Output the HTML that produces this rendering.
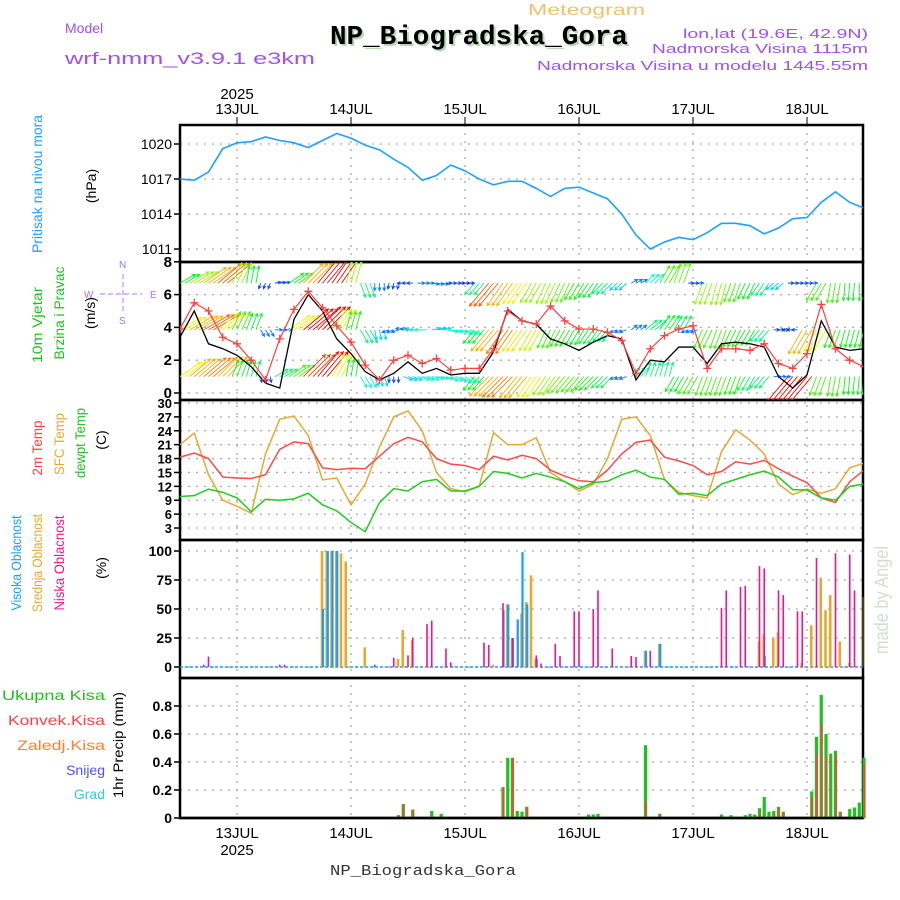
<!DOCTYPE html>
<html><head><meta charset="utf-8"><style>
html,body{margin:0;padding:0;background:#fff;}
svg{display:block;font-family:"Liberation Sans",sans-serif;}
</style></head><body>
<svg id="chart" width="900" height="900" viewBox="0 0 900 900" xmlns="http://www.w3.org/2000/svg">
<defs>
<clipPath id="clipP"><rect x="180" y="125" width="683" height="137"/></clipPath>
<clipPath id="clipW"><rect x="180" y="262" width="683" height="138"/></clipPath>
<clipPath id="clipT"><rect x="180" y="400" width="683" height="140"/></clipPath>
</defs>
<!-- header -->
<text x="528" y="15" font-size="16" fill="#f0c070" lengthAdjust="spacingAndGlyphs" textLength="117">Meteogram</text>
<text x="65" y="33" font-size="14" fill="#a050f0">Model</text>
<text x="65" y="64" font-size="17" fill="#a050f0" lengthAdjust="spacingAndGlyphs" textLength="250">wrf-nmm_v3.9.1 e3km</text>
<text x="332" y="46" font-size="27" font-weight="bold" fill="#b8d8b8" font-family="Liberation Mono, monospace" lengthAdjust="spacingAndGlyphs" textLength="298">NP_Biogradska_Gora</text>
<text x="330" y="44" font-size="27" font-weight="bold" fill="#000" font-family="Liberation Mono, monospace" lengthAdjust="spacingAndGlyphs" textLength="298">NP_Biogradska_Gora</text>
<text x="868" y="38" font-size="13" fill="#a050f0" text-anchor="end" lengthAdjust="spacingAndGlyphs" textLength="185">lon,lat (19.6E, 42.9N)</text>
<text x="868" y="53" font-size="13" fill="#a050f0" text-anchor="end" lengthAdjust="spacingAndGlyphs" textLength="216">Nadmorska Visina 1115m</text>
<text x="868" y="70" font-size="13" fill="#a050f0" text-anchor="end" lengthAdjust="spacingAndGlyphs" textLength="331">Nadmorska Visina u modelu 1445.55m</text>
<text x="237" y="99" font-size="15" text-anchor="middle">2025</text>
<g id="frame"></g>
<g id="marks"></g>
<!-- left labels -->
<text transform="translate(42,184) rotate(-90)" font-size="14" fill="#1e9fff" text-anchor="middle" lengthAdjust="spacingAndGlyphs" textLength="138">Pritisak na nivou mora</text>
<text transform="translate(96,186) rotate(-90)" font-size="14" text-anchor="middle">(hPa)</text>
<text transform="translate(42,325) rotate(-90)" font-size="14" fill="#20c020" text-anchor="middle" lengthAdjust="spacingAndGlyphs" textLength="76">10m Vjetar</text>
<text transform="translate(64,313) rotate(-90)" font-size="14" fill="#20c020" text-anchor="middle" lengthAdjust="spacingAndGlyphs" textLength="93">Brzina i Pravac</text>
<text transform="translate(95,313) rotate(-90)" font-size="14" text-anchor="middle">(m/s)</text>
<g fill="#b070f0" stroke="#b070f0" font-size="10">
<text x="84" y="298" stroke="none">W</text><text x="150" y="298" stroke="none">E</text>
<text x="119" y="268" stroke="none">N</text><text x="119" y="324" stroke="none">S</text>
<line x1="100" y1="294" x2="142" y2="294" stroke-dasharray="5,3"/><line x1="123" y1="274" x2="123" y2="312" stroke-dasharray="5,3"/>
</g>
<text transform="translate(42,448) rotate(-90)" font-size="14" fill="#ff4040" text-anchor="middle" lengthAdjust="spacingAndGlyphs" textLength="55">2m Temp</text>
<text transform="translate(64,444) rotate(-90)" font-size="14" fill="#e8a830" text-anchor="middle" lengthAdjust="spacingAndGlyphs" textLength="62">SFC Temp</text>
<text transform="translate(85,443) rotate(-90)" font-size="14" fill="#20c020" text-anchor="middle" lengthAdjust="spacingAndGlyphs" textLength="70">dewpt Temp</text>
<text transform="translate(106,440) rotate(-90)" font-size="14" text-anchor="middle">(C)</text>
<text transform="translate(21,563) rotate(-90)" font-size="14" fill="#10a0ff" text-anchor="middle" lengthAdjust="spacingAndGlyphs" textLength="95">Visoka Oblacnost</text>
<text transform="translate(42,563) rotate(-90)" font-size="14" fill="#e8a830" text-anchor="middle" lengthAdjust="spacingAndGlyphs" textLength="98">Srednja Oblacnost</text>
<text transform="translate(64,563) rotate(-90)" font-size="14" fill="#f0148c" text-anchor="middle" lengthAdjust="spacingAndGlyphs" textLength="95">Niska Oblacnost</text>
<text transform="translate(106,568) rotate(-90)" font-size="14" text-anchor="middle">(%)</text>
<text x="105" y="700" font-size="14" fill="#20c020" text-anchor="end" lengthAdjust="spacingAndGlyphs" textLength="103">Ukupna Kisa</text>
<text x="105" y="725" font-size="14" fill="#ff4040" text-anchor="end" lengthAdjust="spacingAndGlyphs" textLength="97">Konvek.Kisa</text>
<text x="105" y="750" font-size="14" fill="#ff8030" text-anchor="end" lengthAdjust="spacingAndGlyphs" textLength="88">Zaledj.Kisa</text>
<text x="105" y="775" font-size="14" fill="#5050ff" text-anchor="end">Snijeg</text>
<text x="105" y="799" font-size="14" fill="#30d0d0" text-anchor="end">Grad</text>
<text transform="translate(123,745) rotate(-90)" font-size="14" text-anchor="middle" lengthAdjust="spacingAndGlyphs" textLength="106">1hr Precip (mm)</text>
<text transform="translate(888,600) rotate(-90)" font-size="19" fill="#d4dcd4" text-anchor="middle" lengthAdjust="spacingAndGlyphs" textLength="108">made by Angel</text>
<text x="237" y="855" font-size="15" text-anchor="middle">2025</text>
<text x="330" y="875" font-size="15" fill="#333" font-family="Liberation Mono, monospace" lengthAdjust="spacingAndGlyphs" textLength="186">NP_Biogradska_Gora</text>
</svg>
<script>
// ---- data (3-hourly from 12JUL 12Z) ----
const dayLabels = ["13JUL","14JUL","15JUL","16JUL","17JUL","18JUL"];
const dayHours = [12,36,60,84,108,132];
const pressureTicks = [1011,1014,1017,1020];
const windTicks = [0,2,4,6,8];
const tempTicks = [3,6,9,12,15,18,21,24,27,30];
const cloudTicks = [0,25,50,75,100];
const precipTicks = [0,0.2,0.4,0.6,0.8];
const precipTickLabels = ["0","0.2","0.4","0.6","0.8"];
const pressure = [1017.0,1016.9,1017.6,1019.6,1020.1,1020.2,1020.6,1020.3,1020.1,1019.7,1020.3,1020.9,1020.5,1019.9,1019.5,1018.7,1018.0,1016.9,1017.3,1018.2,1017.7,1017.0,1016.5,1016.8,1016.8,1016.2,1015.5,1016.2,1016.3,1015.8,1015.3,1014.0,1012.2,1011.0,1011.6,1012.0,1011.8,1012.4,1013.2,1013.2,1013.0,1012.3,1012.8,1013.6,1013.7,1015.0,1015.9,1015.0,1014.5];
const windSpeed = [3.4,5.0,3.0,2.7,2.3,1.6,0.6,0.3,4.5,6.0,5.0,3.3,2.4,1.3,0.8,1.2,1.9,1.2,1.5,1.1,1.2,1.2,2.5,5.1,4.4,4.2,3.3,3.0,2.6,3.1,3.5,3.3,0.8,2.0,1.9,2.8,2.8,1.8,3.0,3.1,3.0,2.8,1.0,0.3,1.1,4.4,2.8,2.6,2.7];
const windGust = [3.9,5.5,5.0,3.4,3.0,2.0,0.8,3.3,5.1,6.2,5.2,4.1,3.1,1.7,0.8,2.0,2.3,1.8,2.1,1.4,1.5,1.5,2.7,5.0,4.4,4.2,5.3,4.4,3.9,3.9,3.7,3.2,1.2,2.7,3.5,3.9,4.1,1.5,2.7,2.7,2.6,3.0,1.8,1.5,2.4,5.4,2.7,2.0,1.6];
const windDirTop = [30,30,35,40,65,80,250,10,35,45,50,55,75,290,270,260,180,0,350,0,0,230,230,235,235,240,245,245,240,235,225,225,30,45,60,70,0,250,255,250,245,235,220,0,0,240,260,265,270];
const windSpdTop = [3.5,4.5,5.5,6,4.5,3.5,1.2,1.2,3.5,5.5,6.5,6.5,4.5,3,1.5,1.2,1.2,1.5,1.5,1.2,1.0,3,6,5.5,5,4.5,4.5,4.2,3.8,3.5,3.0,2.0,1.5,2.5,4,4.2,1.2,4.5,4.5,4.0,3.5,3.0,2.0,1.2,1.2,4,4,3.5,3.5];
const windDirMid = [30,30,30,40,65,70,300,0,35,40,45,55,75,300,280,200,170,180,10,350,340,230,230,235,235,240,245,240,240,235,230,200,40,40,55,60,200,245,250,245,240,230,0,180,240,240,250,255,255];
const windSpdMid = [5,5.5,6,5,4,3.5,1.5,1.5,5,6.5,6.5,5,3.8,3,2,1.5,1.5,2.5,2,2.5,2.5,3.5,5.5,5.8,5.2,4.8,4,3.8,3.5,3.4,3.0,1.5,1.5,3,3.5,3.2,1.5,4,4,3.8,3.5,3,1.2,1.2,5.5,5,3.8,3.6,3.6];
const windDirBot = [35,40,40,45,70,75,280,30,35,45,50,60,80,300,290,270,340,345,350,340,330,230,225,225,230,235,235,230,230,225,225,200,45,70,75,240,240,250,250,250,240,230,0,230,230,250,260,265,265];
const windSpdBot = [5,5.5,5.8,5.5,3.5,3.2,1.2,3,4,6.2,6.5,5,3.5,2.5,2,1.2,2,2.5,2.5,2.5,2.5,3.5,5.5,5.8,5.5,5,4.5,4.2,4,3.8,3.2,1.5,2.5,3,3,3.5,4,4,4,3.8,3.2,3,1.5,6.5,6.5,4,4,3.6,3.6];
const temp2m = [18.3,19.2,18.0,14.0,13.8,13.7,14.5,20.0,21.6,21.2,16.0,15.6,15.9,15.8,18.5,21.2,22.6,21.6,18.0,16.8,16.5,15.6,18.5,17.7,18.7,18.0,15.5,14.2,13.2,13.0,15.5,19.0,21.5,22.0,18.3,17.5,16.5,14.5,15.2,17.3,16.8,17.6,15.8,14.2,12.8,9.5,8.5,13.0,15.5];
const tempSfc = [21,23.5,14.5,9,7.7,6.2,19,26.5,27.2,23,13.4,13.8,8,12.5,20.5,27,28.3,24,15,11.5,10.8,12,23.6,21,21,22.5,15,13,11,12.4,18,26.5,27,23,13.5,10.7,10,9.5,19.5,24.2,22,19,12.5,10.2,11.4,10.5,11.5,16,17];
const tempDew = [9.8,10,11.4,10.7,9.5,6.5,9.2,9,9.3,10.5,8,6.7,4.2,2.2,8.5,11.5,11,13,13.5,11,11,12,15.2,14.8,13.8,14.8,14,13,11.5,12.8,13.1,14.5,15.5,14,13.5,10.3,10.5,10,12.5,13.5,14.5,15.3,14,11.3,11.2,9.5,9,12,12.5];
// cloud cover (hourly indices)
const lowHours = [5,6,21,22,41,45,48,49,52,53,56,57,64,65,68,70,75,76,79,80,83,84,87,88,91,95,96,99,114,115,118,119,122,123,126,127,130,131,134,138,141,142];
const lowVals = [2,9,2,2,2,8,10,25,37,40,16,4,21,19,55,25,10,3,20,9.5,48,48,50,66,16,9.5,8.6,14,51,66,69,70,87,85,66,62,48,48,94,98,97,66];
const midHours = [30,31,32,33,34,35,39,46,47,49,66,69,70,72,73,74,75,98,101,122,123,125,126,131,133,135,136,137,139,141];
const midVals = [100,100,100,100,98,91,17,7,32,23,2,54,25,46,56,79,7,14,20,22,28,25,30,3.5,36,77,49,62,22,3.5];
const highHours = [30,31,32,33,68,69,70,71,72,73,75,98,101,123];
const highVals = [50,100,100,100,49,54,25,41,99,54,7,14,20,9.5];
// precipitation (hourly indices)
const precHours = [46,47,49,53,55,68,69,70,71,72,73,74,85,86,87,88,89,97,98,101,102,114,115,116,117,118,119,120,121,122,123,124,125,126,127,132,133,134,135,136,137,138,139,141,142,143,144];
const precTotal = [0.02,0.1,0.06,0.05,0.03,0.22,0.43,0.43,0.05,0.045,0.08,0.01,0.01,0.025,0.025,0.03,0.01,0.01,0.52,0.03,0.01,0.025,0.01,0.02,0.01,0.01,0.02,0.03,0.025,0.07,0.15,0.045,0.05,0.08,0.045,0.01,0.19,0.58,0.88,0.6,0.46,0.48,0.045,0.065,0.075,0.11,0.43];
const precConv = [0.02,0.1,0.06,0,0,0.22,0,0.43,0,0,0.08,0,0,0,0,0,0,0,0.12,0.03,0,0,0,0,0,0,0,0,0,0.04,0,0,0.03,0.07,0.04,0,0.15,0.46,0.67,0.44,0,0.46,0.04,0,0,0,0.39];

// ---- axes ----
const X0 = 180, X1 = 863, PX = 4.75;
const xh = h => X0 + PX*h;
const xi = i => xh(3*i);
const yP = p => 144 + (1020-p)*11.67;
const yW = v => 393 - v*16.4;
const yT = t => 403 + (30-t)*4.63;
const yC = c => 667 - c*1.16;
const yR = r => 818 - r*140;
const panels = [[125,262],[262,400],[400,540],[540,678],[678,818]];

const NS = "http://www.w3.org/2000/svg";
function mk(tag, attrs, parent){
  const e = document.createElementNS(NS, tag);
  for (const k in attrs) e.setAttribute(k, attrs[k]);
  (parent||marks).appendChild(e);
  return e;
}
const frame = document.getElementById('frame');
const marks = document.getElementById('marks');

function hGrid(ticks, yf, labels, y0, y1, name, fs, bold){
  ticks.forEach((t,k)=>{
    const y = yf(t);
    if (y > y0+1 && y < y1-1) {
      const g = mk('line',{x1:X0,x2:X1,y1:y,y2:y,stroke:'#aaa','stroke-width':1.3,'stroke-dasharray':'2,6'},frame);
      
      
    }
    const tk = mk('line',{x1:X0-6,x2:X0,y1:y,y2:y,stroke:'#000','stroke-width':1.5},frame);
    
    
    const tx = mk('text',{x:X0-8,y:y+5,'text-anchor':'end','font-size':fs,'font-weight':bold?'bold':'normal'},frame);
    tx.textContent = labels ? labels[k] : String(t);
    
    
  });
}
hGrid(pressureTicks, yP, null, 125, 262, 'pressure-axis', 14, false);
hGrid(windTicks, yW, null, 262, 400, 'wind-axis', 15, true);
hGrid(tempTicks, yT, null, 400, 540, 'temp-axis', 13, true);
hGrid(cloudTicks, yC, null, 540, 678, 'cloud-axis', 14, true);
hGrid(precipTicks, yR, precipTickLabels, 678, 818, 'precip-axis', 14, true);

dayHours.forEach((h,k)=>{
  const x = xh(h);
  const v = mk('line',{x1:x,x2:x,y1:125,y2:818,stroke:'#aaa','stroke-width':1.3,'stroke-dasharray':'2,6'},frame);
  
  
  const t1 = mk('line',{x1:x,x2:x,y1:117,y2:125,stroke:'#000'},frame);
  
  
  const lt = mk('text',{x:x,y:114,'text-anchor':'middle','font-size':15},frame);
  lt.textContent = dayLabels[k];
  
  
  const lb = mk('text',{x:x,y:838,'text-anchor':'middle','font-size':15},frame);
  lb.textContent = dayLabels[k];
  
  
});
panels.forEach((p,k)=>{
  const r = mk('rect',{x:X0,y:p[0],width:X1-X0,height:p[1]-p[0],fill:'none',stroke:'#000','stroke-width':2.5},frame);
  
  
});

// ---- pressure ----
const pl = mk('polyline',{points:pressure.map((p,i)=>xi(i)+','+yP(p)).join(' '),fill:'none',stroke:'#1ea0ff','stroke-width':1.6,'clip-path':'url(#clipP)'});



// ---- wind arrows ----
const wg = mk('g',{'clip-path':'url(#clipW)'});


function spdColor(s){ const h = Math.max(0, 275 - s/6.5*275); return 'hsl('+h+',95%,50%)'; }
function drawLevel(dirs, spds, base, lname){
  for (let h=0; h<=144; h++){
    const i = Math.min(48, Math.round(h/3));
    const d = dirs[i]*Math.PI/180, s = spds[i];
    const L = 5*s, x0 = xh(h), y0 = yW(base);
    const x1 = x0 + L*Math.cos(d), y1 = y0 - L*Math.sin(d);
    const c = spdColor(s);
    const a1 = d + Math.PI - 0.45, a2 = d + Math.PI + 0.45;
    const path = 'M'+x0+','+y0+'L'+x1+','+y1+'M'+(x1+3.5*Math.cos(a1))+','+(y1-3.5*Math.sin(a1))+'L'+x1+','+y1+'L'+(x1+3.5*Math.cos(a2))+','+(y1-3.5*Math.sin(a2));
    const a = mk('path',{d:path,stroke:c,'stroke-width':0.9,fill:'none'},wg);
    
    
  }
}
drawLevel(windDirTop, windSpdTop, 6.7, 'wind-top');
drawLevel(windDirMid, windSpdMid, 3.85, 'wind-mid');
drawLevel(windDirBot, windSpdBot, 1.0, 'wind-bottom');
const wl = mk('polyline',{points:windSpeed.map((v,i)=>xi(i)+','+yW(v)).join(' '),fill:'none',stroke:'#000','stroke-width':1.3,'clip-path':'url(#clipW)'});


const gl = mk('polyline',{points:windGust.map((v,i)=>xi(i)+','+yW(v)).join(' '),fill:'none',stroke:'#ff4040','stroke-width':1.2,'clip-path':'url(#clipW)'});


windGust.forEach((v,i)=>{
  const x = xi(i), y = yW(v);
  const m = mk('path',{d:'M'+(x-4)+','+y+'H'+(x+4)+'M'+x+','+(y-4)+'V'+(y+4),stroke:'#ff4040','stroke-width':1.3,'clip-path':'url(#clipW)'});
  
  
});

// ---- temperature ----
[[tempSfc,'#e8a830','sfc-temp-line'],[temp2m,'#ff4848','temp-2m-line'],[tempDew,'#20cc20','dewpoint-line']].forEach(s=>{
  const l = mk('polyline',{points:s[0].map((v,i)=>xi(i)+','+yT(v)).join(' '),fill:'none',stroke:s[1],'stroke-width':1.5,'clip-path':'url(#clipT)'});
  
  
});

// ---- clouds ----
const zb = mk('line',{x1:X0,x2:X1,y1:yC(0),y2:yC(0),stroke:'#10a0ff','stroke-width':1.5,'stroke-dasharray':'3,2'});


function cloudBars(hours, vals, color, off, w, name){
  hours.forEach((h,k)=>{
    const x = xh(h)+off, y = yC(vals[k]);
    const b = mk('rect',{x:x-w/2,y:y,width:w,height:yC(0)-y,fill:color});
    
    
  });
}
cloudBars(midHours, midVals, '#e8a830', -0.5, 2.6, 'mid-cloud-bar');
cloudBars(highHours, highVals, '#10a0ff', 0.5, 2.2, 'high-cloud-bar');
cloudBars(lowHours, lowVals, '#f0148c', 0, 1.6, 'low-cloud-bar');
const edge = mk('line',{x1:863,x2:863,y1:597,y2:667,stroke:'#4a3a10','stroke-width':2});



// ---- precipitation ----
precHours.forEach((h,k)=>{
  const x = xh(h);
  const g = mk('rect',{x:x-1.6,y:yR(precTotal[k]),width:3.2,height:yR(0)-yR(precTotal[k]),fill:'#20c020'});
  
  
  if (precConv[k] > 0){
    const r = mk('rect',{x:x-0.2,y:yR(precConv[k]),width:1.6,height:yR(0)-yR(precConv[k]),fill:'#ff4040'});
    
    
  }
});
const pb = mk('line',{x1:X0,x2:X1,y1:818,y2:818,stroke:'#000','stroke-width':2.5});


</script>
</body></html>
